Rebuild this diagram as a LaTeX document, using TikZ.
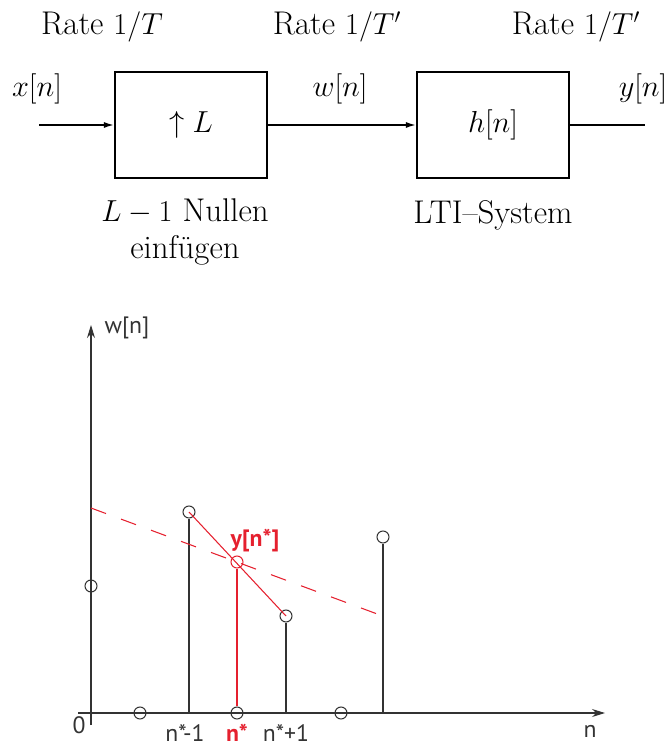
\documentclass[tikz,border=0pt]{standalone}
\usepackage{fontspec}
\newfontfamily\plotfont{PT Sans}
\usepackage{tikz}
\usetikzlibrary{positioning,arrows.meta}
\usepackage{xcolor}
\definecolor{plotred}{HTML}{E5202E}
\definecolor{plotgray}{HTML}{333333}

\begin{document}
\begin{tikzpicture}[x=0.02cm,y=-0.02cm,
          block/.style={draw,line width=1.2pt,minimum width=3.04cm,minimum height=2.12cm,
                        font=\fontsize{18.7}{21}\selectfont},
          lbl/.style={font=\fontsize{18.7}{21}\selectfont,anchor=base,inner sep=0pt},
          note/.style={font=\fontsize{18.7}{21}\selectfont,align=center,inner sep=0pt},
          sig/.style={line width=0.9pt,-{Latex[length=2mm,width=1.2mm]}},
          axis/.style={plotgray,line width=0.6pt,-{Stealth[length=2.6mm,width=1.6mm]}},
          stem/.style={plotgray,line width=0.6pt},
          sample/.style={circle,draw=plotgray,line width=0.6pt,minimum size=0.24cm,inner sep=0pt},
          plbl/.style={font=\plotfont\fontsize{13.5}{16}\selectfont,text=plotgray,anchor=base,inner sep=0pt}]
        \useasboundingbox (0,0) rectangle (670,746);
        % upsampler and filter
        \node[block] (up) at (191,125) {$\uparrow L$};
        \node[block] (lti) at (493,125) {$h[n]$};
        \coordinate (xin) at (39,125);
        \coordinate (yout) at (645,125);
        \draw[sig] (xin) -- (up);
        \draw[sig] (up) -- (lti);
        \draw[line width=0.9pt] (lti) -- (yout);
        \node[lbl] (r1) at (102,35) {Rate $1/T$};
        \node[lbl] (r2) at (337,35) {Rate $1/T'$};
        \node[lbl] (r3) at (576,35) {Rate $1/T'$};
        \node[lbl] (xl) at (37,97) {$x[n]$};
        \node[lbl] (wl) at (340,97) {$w[n]$};
        \node[lbl] (yl) at (643,97) {$y[n]$};
        \node[note,below=0.38cm of up,xshift=-0.12cm] (ins) {$L-1$ Nullen\\einfügen};
        \node[note,below=0.43cm of lti] (ltil) {LTI--System};
        % stem plot
        \coordinate (o) at (91,713);
        \coordinate (xbeg) at (78,713);
        \coordinate (xend) at (605,713);
        \coordinate (ybeg) at (91,725);
        \coordinate (yend) at (91,325);
        \draw[axis] (xbeg) -- (xend);
        \draw[axis] (ybeg) -- (yend);
        \foreach \i/\x/\y in {0/91/586,1/140/713,2/189/512,3/237/713,4/286/616,5/341/713,6/383/537}
          \node[sample] (s\i) at (\x,\y) {};
        \foreach \i in {2,4,6}
          \draw[stem] (s\i |- o) -- (s\i.south);
        \node[sample,draw=plotred] (ys) at (237,562) {};
        \draw[stem,draw=plotred] (s3.north) -- (ys.south);
        \draw[stem,draw=plotred] (s2.center) -- (s4.center);
        \coordinate (dbeg) at (91,508);
        \coordinate (dend) at (380,615);
        \draw[stem,draw=plotred,dash pattern=on 0.32cm off 0.32cm] (dbeg) -- (dend);
        \node[plbl] (wn) at (127,333) {w[n]};
        \node[plbl] (zero) at (79,733) {0};
        \node[plbl] (nl) at (590,737) {n};
        \node[plbl] (m1) at (185,741) {n*-1};
        \node[plbl,text=plotred,font=\plotfont\bfseries\fontsize{13.5}{16}\selectfont] (ns) at (237,741) {n*};
        \node[plbl] (p1) at (286,741) {n*+1};
        \node[plbl,text=plotred,font=\plotfont\bfseries\fontsize{13.5}{16}\selectfont] (ysl) at (255,546) {y[n*]};
      \end{tikzpicture}
\end{document}
